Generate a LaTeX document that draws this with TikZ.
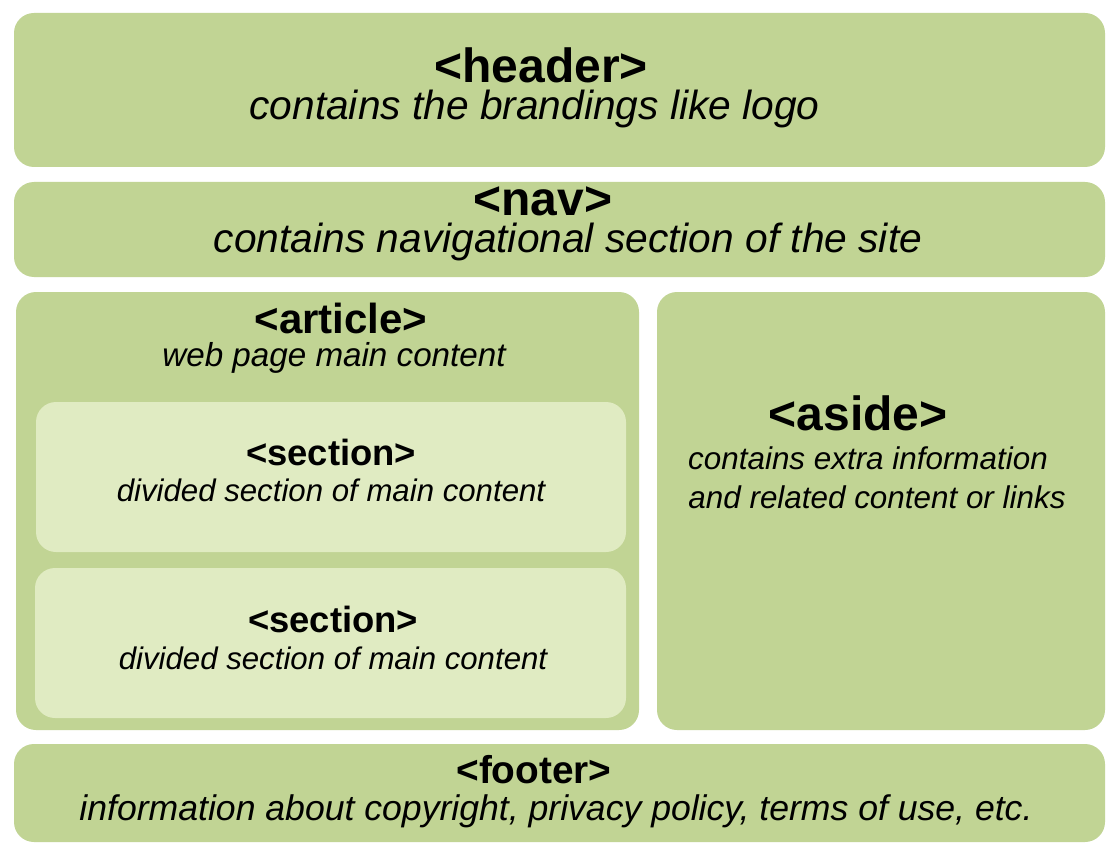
\documentclass[tikz,border=0pt]{standalone}
\usepackage{fontspec}
\setmainfont{Liberation Sans}
\begin{document}
\begin{tikzpicture}[x=1pt,y=-1pt,
  outerbox/.style={fill=boxgreen,draw=none,rounded corners=20pt,inner sep=0pt},
  innerbox/.style={fill=lightgreen,draw=none,rounded corners=20pt,inner sep=0pt},
  txt/.style={anchor=base,inner sep=0pt},
  tagA/.style={txt,font=\fontsize{48}{52}\selectfont\bfseries},
  tagB/.style={txt,font=\fontsize{42}{46}\selectfont\bfseries},
  tagC/.style={txt,font=\fontsize{36.4}{40}\selectfont\bfseries},
  tagD/.style={txt,font=\fontsize{38.8}{42}\selectfont\bfseries},
  descA/.style={txt,font=\fontsize{40.7}{44}\selectfont\itshape},
  descB/.style={txt,font=\fontsize{33.2}{36}\selectfont\itshape},
  descC/.style={txt,font=\fontsize{31.2}{34}\selectfont\itshape},
  descE/.style={txt,font=\fontsize{31.4}{34}\selectfont\itshape},
  descD/.style={txt,font=\fontsize{35.6}{38}\selectfont\itshape}]
\definecolor{boxgreen}{RGB}{193,212,148}
\definecolor{lightgreen}{RGB}{224,235,194}
\useasboundingbox (0,0) rectangle (1118,850);
\fill[white] (0,0) rectangle (1118,850);
% boxes
\node[outerbox,minimum width=1091pt,minimum height=154pt] (header) at (559.5,90) {};
\node[outerbox,minimum width=1091pt,minimum height=95pt] (nav) at (559.5,229.5) {};
\node[outerbox,minimum width=623pt,minimum height=438pt] (article) at (327.5,511) {};
\node[outerbox,minimum width=448pt,minimum height=438pt] (aside) at (881,511) {};
\node[innerbox,minimum width=590pt,minimum height=150pt] (sec1) at (331,477) {};
\node[innerbox,minimum width=591pt,minimum height=150pt] (sec2) at (330.5,643) {};
\node[outerbox,minimum width=1091pt,minimum height=98pt] (footer) at (559.5,793) {};
% texts
\node[tagA] (headerT) at (541,83) {<header>};
\node[descA] (headerD) at (534.5,120) {contains the brandings like logo};
\node[tagA] (navT) at (543,216) {<nav>};
\node[descA] (navD) at (568,253) {contains navigational section of the site};
\node[tagB] (articleT) at (341,333) {<article>};
\node[descB] (articleD) at (334,366) {web page main content};
\node[tagC] (sec1T) at (331,465) {<section>};
\node[descC] (sec1D) at (331,501) {divided section of main content};
\node[tagC] (sec2T) at (333,632) {<section>};
\node[descC] (sec2D) at (333,669) {divided section of main content};
\node[tagA] (asideT) at (858,430) {<aside>};
\node[descE] (asideD1) at (868,469) {contains extra information};
\node[descE] (asideD2) at (877,508) {and related content or links};
\node[tagD] (footerT) at (534,783) {<footer>};
\node[descD] (footerD) at (556,820) {information about copyright, privacy policy, terms of use, etc.};
\end{tikzpicture}
\end{document}
